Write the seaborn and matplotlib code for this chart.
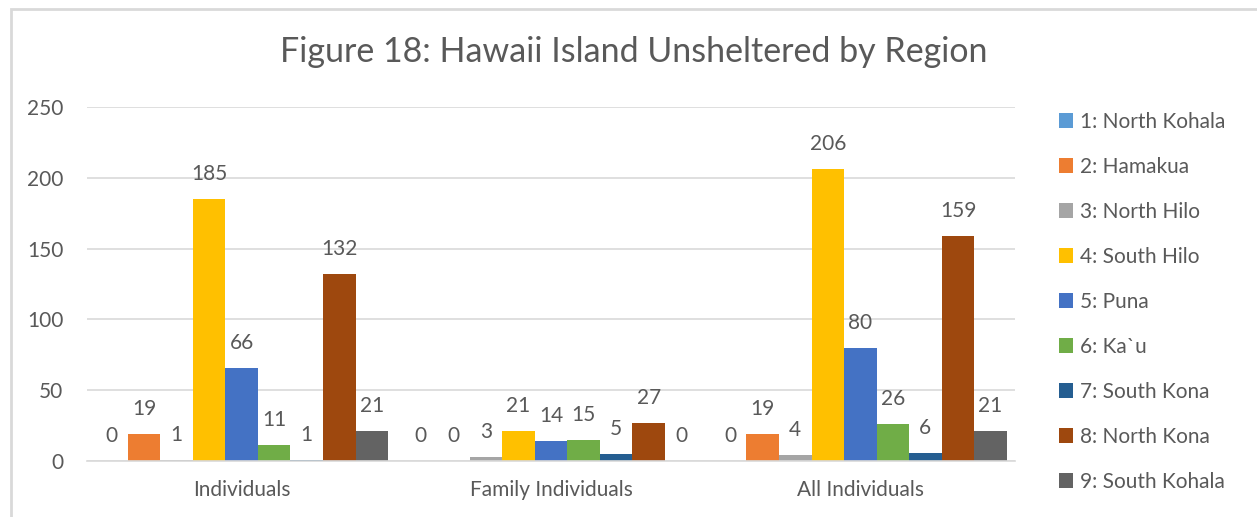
import matplotlib
matplotlib.use("Agg")
import matplotlib.pyplot as plt
from matplotlib.patches import Rectangle
import seaborn as sns
import pandas as pd

categories = ["Individuals", "Family Individuals", "All Individuals"]
regions = ["1: North Kohala", "2: Hamakua", "3: North Hilo", "4: South Hilo", "5: Puna",
           "6: Ka`u", "7: South Kona", "8: North Kona", "9: South Kohala"]
individuals = [0, 19, 1, 185, 66, 11, 1, 132, 21]
family_individuals = [0, 0, 3, 21, 14, 15, 5, 27, 0]
all_individuals = [0, 19, 4, 206, 80, 26, 6, 159, 21]
colors = ["#5B9BD5", "#ED7D31", "#A5A5A5", "#FFC000", "#4472C4",
          "#70AD47", "#255E91", "#9E480E", "#636363"]
yticks = [0, 50, 100, 150, 200, 250]
title = "Figure 18: Hawaii Island Unsheltered by Region"

rows = []
for cat, vals in zip(categories, [individuals, family_individuals, all_individuals]):
    for reg, v in zip(regions, vals):
        rows.append({"category": cat, "region": reg, "value": v})
df = pd.DataFrame(rows)

sns.set_theme(style="white")
plt.rcParams["font.family"] = ["Lato", "DejaVu Sans"]
TXT = "#595959"

fig = plt.figure(figsize=(12.57, 5.17), dpi=100)
ax = fig.add_axes([87 / 1257, 56 / 517, (1015 - 87) / 1257, (461 - 107) / 517])

sns.barplot(data=df, x="category", y="value", hue="region", order=categories,
            hue_order=regions, palette=colors, width=0.947, gap=0,
            linewidth=0, saturation=1, ax=ax, legend=True)

ax.set_xlim(-0.5, 2.5)
ax.set_ylim(0, 250)
ax.set_yticks(yticks)
ax.yaxis.grid(True, color="#D9D9D9", linewidth=1.2)
ax.set_axisbelow(True)
for s in ["top", "right", "left"]:
    ax.spines[s].set_visible(False)
ax.spines["bottom"].set_color("#D9D9D9")
ax.spines["bottom"].set_linewidth(1.2)
ax.tick_params(axis="y", length=0, pad=17, labelsize=15, labelcolor=TXT)
ax.tick_params(axis="x", length=0, pad=14, labelsize=15, labelcolor=TXT)
ax.set_xlabel("")
ax.set_ylabel("")

for cont in ax.containers:
    for p in cont:
        ax.annotate(f"{int(round(p.get_height()))}",
                    (p.get_x() + p.get_width() / 2, p.get_height()),
                    xytext=(0, 18), textcoords="offset points",
                    ha="center", va="center", fontsize=15, color=TXT)

handles, labels = ax.get_legend_handles_labels()
ax.get_legend().remove()
fig.legend(handles, labels, loc="upper left", bbox_to_anchor=(1040 / 1257, 1 - 93 / 517),
           frameon=False, fontsize=15, labelcolor=TXT, handlelength=0.7,
           handleheight=0.7, handletextpad=0.3, labelspacing=1.2)

fig.text(634 / 1257, 1 - 52 / 517, title, ha="center", va="center",
         fontsize=24.5, color=TXT)

fig.add_artist(Rectangle((11 / 1257, -0.1), 1.2, 1 - 9 / 517 + 0.1,
                         transform=fig.transFigure, fill=False,
                         edgecolor="#D9D9D9", linewidth=2))

fig.savefig("out.png", dpi=100, facecolor="white")
